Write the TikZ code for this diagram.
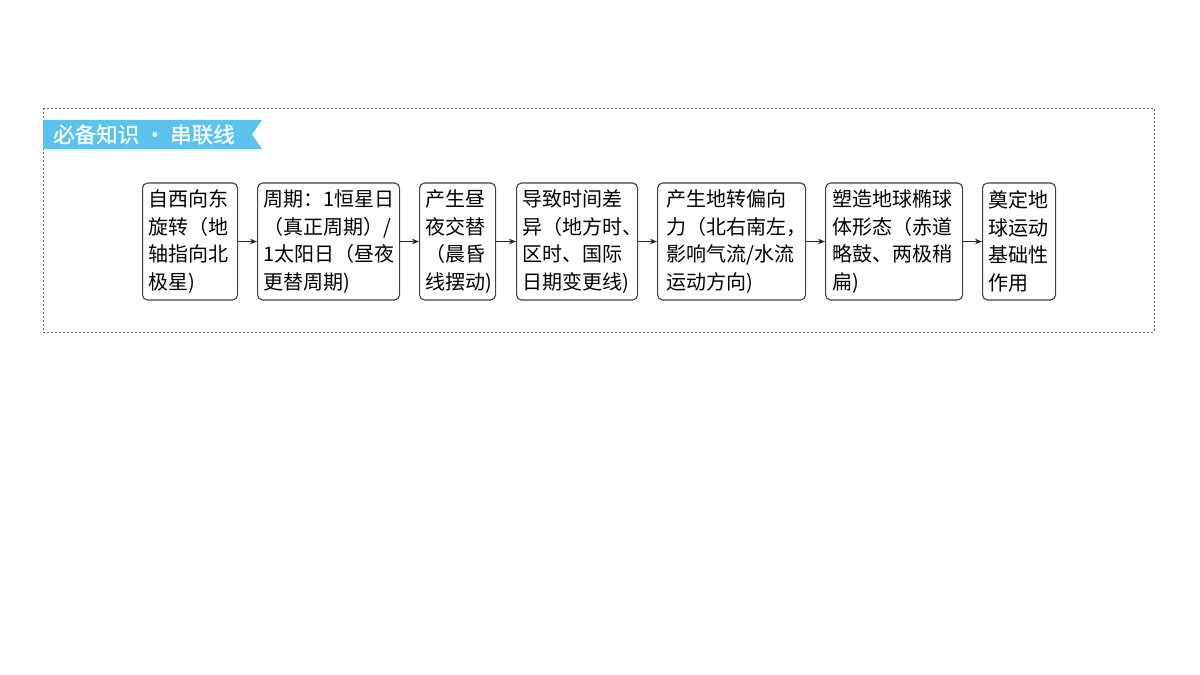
\documentclass[tikz,border=0pt]{standalone}
\usepackage{fontspec}
\setmainfont{Noto Sans CJK SC}
\newfontfamily\bannerfont[FakeBold=0.8]{Noto Sans CJK SC}
\usetikzlibrary{arrows.meta}
\definecolor{bannerblue}{HTML}{5BC3EE}
\tikzset{
	stepbox/.style={draw=black!75, line width=1.1pt, rounded corners=5pt, anchor=west, minimum height=117pt, inner xsep=6pt, inner ysep=0pt, align=left, font=\fontsize{20}{27.7}\selectfont},
	flow/.style={-{Stealth[length=7pt,width=5.5pt]}, draw=black!85, line width=1pt}
}

\begin{document}
\begin{tikzpicture}[x=1pt, y=-1pt]
							\useasboundingbox (0,0) rectangle (1200,675);
							\draw[black!60, line width=0.8pt, dash pattern=on 2pt off 2pt] (43,108) rectangle (1154,332);
							\fill[bannerblue] (43,120) -- (262,120) -- (252,134.5) -- (262,149) -- (43,149) -- cycle;
							\node[anchor=west, text=white, inner sep=0pt, font=\bannerfont\fontsize{21.5}{21.5}\selectfont] (title) at (53,134.5) {必备知识 · 串联线};
							
							\node[stepbox, text width=83pt, inner xsep=6pt] (rotation) at (142,241.5) {自西向东\\旋转（地\\轴指向北\\极星)};
							\node[stepbox, text width=130pt] (period) at (257,241.5) {周期：1恒星日\\（真正周期）/\\1太阳日（昼夜\\更替周期)};
							\node[stepbox, text width=64pt] (daynight) at (419,241.5) {产生昼\\夜交替\\（晨昏\\线摆动)};
							\node[stepbox, text width=109pt] (timediff) at (516,241.5) {导致时间差\\异（地方时、\\区时、国际\\日期变更线)};
							\node[stepbox, text width=130pt, inner xsep=9pt] (deflect) at (657,241.5) {产生地转偏向\\力（北右南左，\\影响气流/水流\\运动方向)};
							\node[stepbox, text width=123pt, inner xsep=7pt] (ellipsoid) at (825,241.5) {塑造地球椭球\\体形态（赤道\\略鼓、两极稍\\扁)};
							\node[stepbox, text width=61pt] (basis) at (982,241.5) {奠定地\\球运动\\基础性\\作用};
							
							\draw[flow] (rotation) -- (period);
							\draw[flow] (period) -- (daynight);
							\draw[flow] (daynight) -- (timediff);
							\draw[flow] (timediff) -- (deflect);
							\draw[flow] (deflect) -- (ellipsoid);
							\draw[flow] (ellipsoid) -- (basis);
						\end{tikzpicture}
\end{document}
